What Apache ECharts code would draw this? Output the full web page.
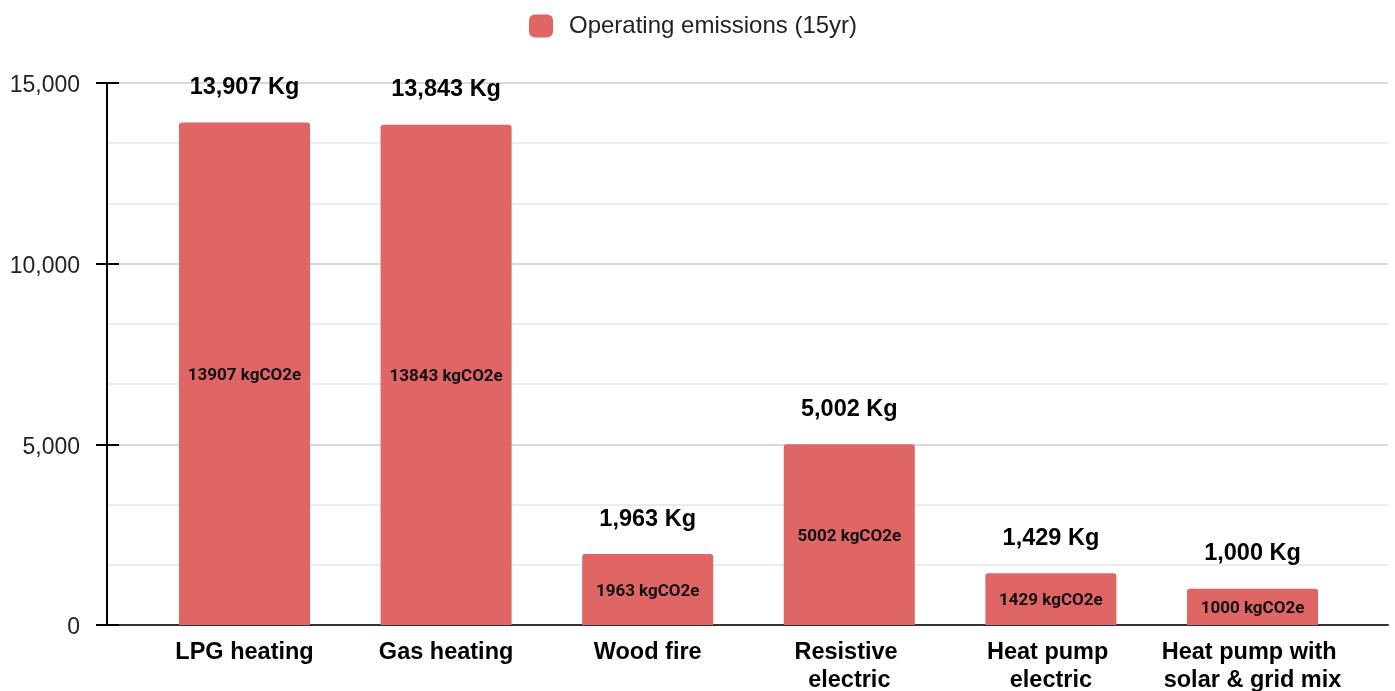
<!DOCTYPE html>
<html>
<head>
<meta charset="utf-8">
<script src="https://cdn.jsdelivr.net/npm/echarts@6/dist/echarts.min.js"></script>
<style>
  html, body { margin: 0; padding: 0; background: #fff; }
  #chart { width: 1395px; height: 691px; }
</style>
</head>
<body>
<div id="chart"></div>
<script>
  // values
  const categories = ['LPG heating', 'Gas heating', 'Wood fire', 'Resistive electric', 'Heat pump electric', 'Heat pump with solar & grid mix'];
  const emissions = [13907, 13843, 1963, 5002, 1429, 1000];
  const seriesName = 'Operating emissions (15yr)';
  const yMax = 15000;
  const yStep = 5000;

  const barColor = '#e06666';
  const fmt = v => v.toLocaleString('en-US');

  const chart = echarts.init(document.getElementById('chart'));

  const options = {
    animation: false,
    legend: {
      data: [seriesName],
      left: 524,
      top: 9,
      itemWidth: 24,
      itemHeight: 23,
      icon: 'roundRect',
      textStyle: { fontFamily: 'Liberation Sans', fontSize: 24, color: '#222', padding: [0, 0, 0, 11] }
    },
    // grid 0 draws the frame, grid 1 holds the bars
    // the category labels run off the bottom edge, so don't let the grid shrink for them
    grid: [
      { left: 107, right: 7, top: 83, bottom: 66, outerBoundsMode: 'none' },
      { left: 143.7, right: 41.7, top: 83, bottom: 66, outerBoundsMode: 'none' }
    ],
    xAxis: [
      {
        gridIndex: 0, type: 'value', min: 0, max: 1,
        axisLine: { show: true, lineStyle: { color: '#333', width: 2 } },
        axisTick: { show: false }, axisLabel: { show: false }, splitLine: { show: false }
      },
      {
        gridIndex: 1, type: 'category', data: categories,
        axisLine: { show: false }, axisTick: { show: false },
        axisLabel: {
          interval: 0, margin: 14,
          fontFamily: 'Liberation Sans', fontWeight: 'bold', fontSize: 23.5, color: '#000',
          lineHeight: 28, width: 184, overflow: 'break'
        }
      }
    ],
    yAxis: [
      {
        gridIndex: 0, type: 'value', position: 'left', min: 0, max: yMax, interval: yStep,
        axisLine: { show: true, lineStyle: { color: '#000', width: 2 } },
        axisTick: { show: true, length: 11, lineStyle: { color: '#000', width: 2 } },
        axisLabel: {
          margin: 27, fontFamily: 'Liberation Sans', fontSize: 23, color: '#222',
          verticalAlign: 'top', lineHeight: 6,   // nudges the numbers a little below the tick
          formatter: v => fmt(v)
        },
        splitLine: { show: true, lineStyle: { color: '#cccccc', width: 1.5 } },
        minorTick: { show: false, splitNumber: 3 },
        minorSplitLine: { show: true, lineStyle: { color: '#e6e6e6', width: 1.5 } }
      },
      {
        // second axis only for the inner half of the tick marks
        gridIndex: 0, type: 'value', position: 'left', min: 0, max: yMax, interval: yStep,
        axisLine: { show: false },
        axisTick: { show: true, inside: true, length: 12, lineStyle: { color: '#000', width: 2 } },
        axisLabel: { show: false }, splitLine: { show: false }
      },
      { gridIndex: 1, type: 'value', min: 0, max: yMax, show: false }
    ],
    series: [
      {
        name: seriesName,
        type: 'bar',
        xAxisIndex: 1, yAxisIndex: 2,
        data: emissions,
        barWidth: '65%',
        itemStyle: { color: barColor, borderRadius: [3, 3, 0, 0] },
        label: {
          show: true, position: 'inside', offset: [0, 2],
          fontFamily: 'Roboto', fontWeight: 'bold', fontSize: 17, color: '#111',
          formatter: p => p.value + ' kgCO2e'
        }
      },
      {
        name: 'totals',
        type: 'bar',
        xAxisIndex: 1, yAxisIndex: 2,
        data: emissions,
        barWidth: '65%',
        barGap: '-100%',
        silent: true,
        itemStyle: { color: 'rgba(0,0,0,0)' },
        label: {
          show: true, position: 'top', distance: 23,
          fontFamily: 'Liberation Sans', fontWeight: 'bold', fontSize: 23.5, color: '#000',
          lineHeight: 24,
          formatter: p => fmt(p.value) + ' Kg'
        }
      }
    ]
  };

  chart.setOption(options);
</script>
</body>
</html>
